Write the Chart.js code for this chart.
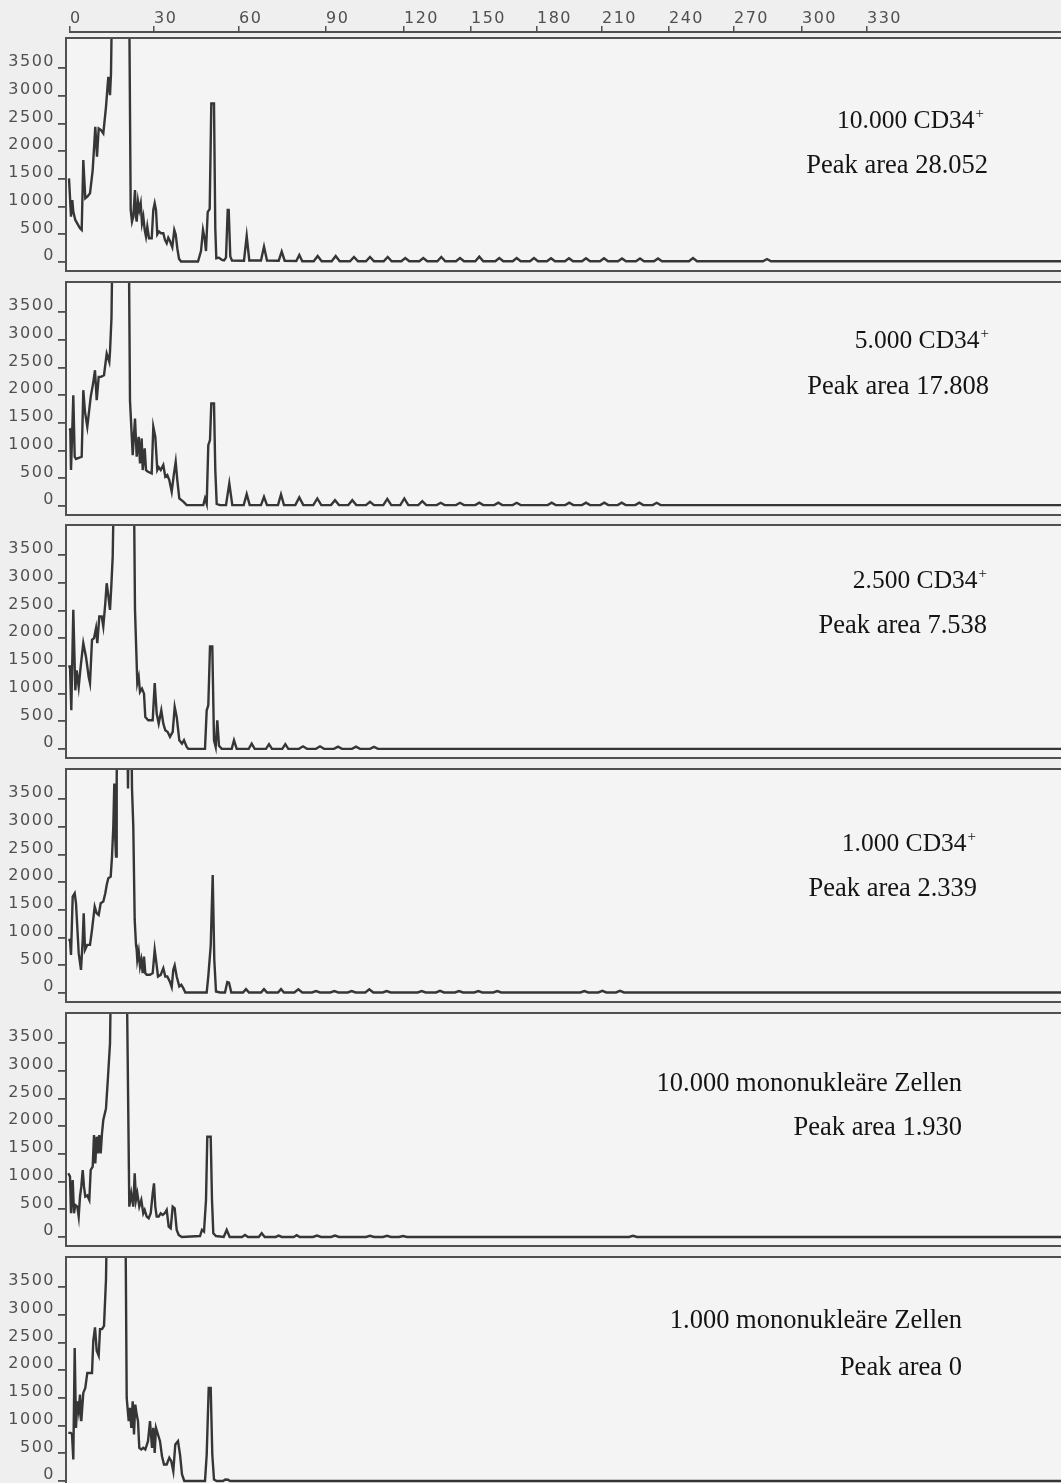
<!DOCTYPE html>
<html>
<head>
<meta charset="utf-8">
<script src="https://cdn.jsdelivr.net/npm/chart.js@4.4.1/dist/chart.umd.min.js"></script>
<style>
  html, body { margin: 0; padding: 0; width: 1061px; height: 1483px; overflow: hidden; background: #efefef; }
  canvas { position: absolute; left: 0; }
</style>
</head>
<body>
<canvas id="topAxis" width="1063" height="40" style="top:0"></canvas>
<canvas id="panel0" width="1063" height="236"></canvas>
<canvas id="panel1" width="1063" height="236"></canvas>
<canvas id="panel2" width="1063" height="236"></canvas>
<canvas id="panel3" width="1063" height="236"></canvas>
<canvas id="panel4" width="1063" height="236"></canvas>
<canvas id="panel5" width="1063" height="236"></canvas>
<script>
// top axis: channel position of each tick and its printed label
const axisTickChannels = [0, 84, 169, 256, 334, 401, 467, 532, 599, 664, 732, 797];
const axisTickLabels = ['0', '30', '60', '90', '120', '150', '180', '210', '240', '270', '300', '330'];
const yTickValues = [0, 500, 1000, 1500, 2000, 2500, 3000, 3500];

const panelTitles = ['10.000 CD34', '5.000 CD34', '2.500 CD34', '1.000 CD34',
  '10.000 mononukleäre Zellen', '1.000 mononukleäre Zellen'];
const titleSuperscripts = ['+', '+', '+', '+', '', ''];
const peakAreas = ['28.052', '17.808', '7.538', '2.339', '1.930', '0'];

// traces: [channel, signal]
const trace_cd34_10000 = [
  [-1,1510],[1,820],[2.3,1120],[3.3,910],[5.3,760],[10,610],[11.7,580],[13.3,1840],[15.3,1150],[17.3,1180],
  [20,1240],[22.7,1660],[25.3,2440],[27,1900],[28.7,2410],[31,2380],[33.3,2320],[36,2800],[38.3,3340],[40,3010],
  [41,3400],[43,6000],[58.7,6000],[60.7,940],[62,730],[63.3,820],[65,1300],[66,820],[66.7,730],[68,1090],
  [69.3,940],[70.7,1060],[72,700],[73.3,820],[74.7,580],[76,460],[77.3,640],[79,430],[81.7,430],[83.3,940],
  [84.7,1060],[86,940],[87.3,500],[89,550],[91,520],[93.3,520],[95,400],[96.7,340],[98.3,440],[100,380],
  [102.3,270],[104.3,580],[105.7,500],[107.3,250],[109,60],[111,10],[128,10],[131,200],[133,580],[134.7,420],
  [136,200],[137.7,900],[139.7,960],[141.3,2860],[144,2860],[145.3,600],[146.3,70],[149,80],[152,40],[154,30],
  [156,80],[157.7,940],[158.7,940],[160.3,100],[162,30],[174,25],[176.7,470],[179.3,30],[191,30],[194,280],
  [197,30],[208.7,25],[211.7,190],[214.7,25],[226.3,20],[229.3,130],[232.3,15],
  [243.7,15],[247.7,110],[251.7,15],[261.7,15],[265.7,110],[269.7,15],[280,15],[284,93],[288,15],
  [296,15],[300,93],[304,15],[313.7,15],[317.7,93],[321.7,15],[331.3,15],[335.3,75],[339.3,15],
  [349.3,15],[353.3,75],[357.3,15],[367.3,15],[371.3,93],[375.3,15],[386,15],[390,75],[394,15],
  [405.3,15],[409.3,99],[413.3,15],[425.3,15],[429.3,75],[433.3,15],[442.7,15],[446.7,75],[450.7,15],
  [460,15],[464,75],[468,15],[477,15],[481,70],[485,15],[495,15],[499,70],[503,15],
  [512,15],[516,70],[520,15],[530,15],[534,70],[538,15],[548,15],[552,65],[556,15],
  [566,15],[570,65],[574,15],[584,15],[588,65],[592,15],[619,15],[623,75],[627,15],
  [693,15],[697,55],[701,15],[993,15]
];

const trace_cd34_5000 = [
  [-0.7,1400],[0.3,1380],[1,650],[2,1200],[3.3,2000],[4.7,890],[6,850],[11.7,890],[13.3,2090],[15,1700],
  [17.3,1430],[20.7,1970],[23,2200],[25,2450],[26.7,1910],[28.7,2330],[31,2330],[34,2360],[36.7,2750],[39.3,2600],
  [40,2780],[41.5,3400],[43.3,6000],[58.3,6000],[60,1900],[62.7,920],[65,1580],[66.7,890],[68.7,1250],[70,770],
  [71.7,1220],[72.7,650],[74.7,1040],[76,650],[78,620],[81.7,590],[83.3,1430],[85.3,1250],[87.3,650],[88.7,700],
  [90.7,650],[93.3,740],[95.3,530],[97.3,560],[99.3,470],[101.7,260],[104,590],[105.7,800],[107.3,470],[109.3,140],
  [113.3,80],[116.7,18],[133.3,18],[135,140],[136.7,40],[138.3,1100],[140,1190],[141.3,1850],[144,1850],[145.3,650],
  [146.7,40],[150,18],[156,18],[159.3,410],[162.3,18],[173.7,18],[176.7,216],[179.7,18],[191,18],[194,168],
  [197,18],[208,18],[211,210],[214,18],
  [225.3,18],[229.3,158],[233.3,18],[243.3,18],[247.3,138],[251.3,18],[261,18],[265,108],[269,18],
  [278.3,18],[282.3,108],[286.3,18],[296,18],[300,78],[304,18],[313.3,18],[317.3,130],[321.3,18],
  [330.3,18],[334.3,138],[338.3,18],[348.3,18],[352.3,90],[356.3,18],[366.7,18],[370.7,60],[374.7,18],
  [386,18],[390,60],[394,18],[405.3,18],[409.3,63],[413.3,18],[424.3,18],[428.3,63],[432.3,18],
  [442.7,18],[446.7,60],[450.7,18],[477.7,18],[481.7,63],[485.7,18],[495.3,18],[499.3,63],[503.3,18],
  [512,18],[516,63],[520,18],[530.3,18],[534.3,63],[538.3,18],[547.7,18],[551.7,63],[555.7,18],
  [565.3,18],[569.3,63],[573.3,18],[582.7,18],[586.7,60],[590.7,18],[993,18]
];

const trace_cd34_2500 = [
  [-1.7,1490],[0,1490],[1.3,700],[3.3,2510],[5.3,1060],[6.7,1420],[8.7,1120],[10.7,1490],[13.3,1910],[16,1660],
  [18.7,1300],[20,1190],[22,1970],[24,2000],[26,2180],[27.3,1910],[29.3,2390],[31.7,2390],[33.3,2210],[35.3,2630],
  [36.7,2990],[38,2810],[40,2510],[41.3,2930],[42.7,3470],[45,6000],[63.3,6000],[65,2510],[67.3,1190],[68.7,1300],
  [70,1030],[72,1090],[74,1000],[75.3,580],[78.3,520],[82.7,520],[84.7,1190],[86.7,640],[88.7,460],[91.3,700],
  [93.3,460],[95.3,340],[97.7,310],[100,220],[102.7,310],[104.7,760],[106.7,580],[109.3,160],[112,100],[114,160],
  [116.7,40],[118.3,5],[135,5],[136.7,700],[138.3,790],[140,1850],[142.3,1850],[144,160],[145.7,40],[147.3,520],
  [149,60],[151.7,5],[161.7,5],[164,160],[166.7,5],[178.7,5],[181.7,100],[184.7,5],[196,5],[199,90],
  [202,5],[212.3,5],[215.3,90],[218.3,5],
  [229,5],[233,50],[237,5],[246,5],[250,50],[254,5],[264,5],[268,45],[272,5],
  [282,5],[286,45],[290,5],[300,5],[304,40],[308,5],[993,5]
];

const trace_cd34_1000 = [
  [-1.7,960],[0,960],[1,690],[2.7,1740],[4.7,1800],[6,1620],[8.7,720],[11,420],[12.7,960],[13.7,1440],
  [15,780],[17.3,870],[20,870],[22,1140],[24.7,1560],[26.7,1440],[28.7,1410],[30.7,1620],[33.3,1650],[35.3,1800],
  [36.7,1950],[38.3,2070],[40.7,2100],[42,2460],[43.3,3000],[44.3,3780],[45.3,2760],[46,2460],[46.7,3780],[47.3,6000],
  [56.7,6000],[58,3690],[59.3,6000],[60.7,6000],[62,3690],[63.3,3000],[64.7,1320],[66,870],[66.7,780],[67.3,600],
  [68.7,750],[70,480],[71.3,600],[72.7,360],[74,660],[75.3,360],[76.7,330],[80,330],[82.7,360],[84.7,780],
  [86,600],[88,300],[90.7,330],[93.3,450],[95.3,300],[97.3,300],[100,200],[101.7,110],[103.3,420],[104.7,500],
  [106.7,300],[109.3,120],[111.3,150],[113.3,90],[115.3,12],[136.7,12],[138.3,300],[140.7,850],[142.7,2130],[144.3,600],
  [146,30],[150,12],[155,12],[157.3,200],[159,190],[161.3,12],[173,12],[176,72],[179,12],[191,12],
  [194,72],[197,12],[208,12],[211,72],[214,12],
  [224.3,12],[228.3,68],[232.3,12],[242,12],[246,38],[250,12],[260.3,12],[264.3,38],[268.3,12],
  [277.7,12],[281.7,38],[285.7,12],[295.3,12],[299.3,68],[303.3,12],[312.7,12],[316.7,38],[320.7,12],
  [347.7,12],[351.7,38],[355.7,12],[366,12],[370,41],[374,12],[385,12],[389,38],[393,12],
  [404.3,12],[408.3,38],[412.3,12],[423.3,12],[427.3,38],[431.3,12],[510.3,12],[514.3,38],[518.3,12],
  [528.3,12],[532.3,41],[536.3,12],[546,12],[550,41],[554,12],[993,12]
];

const trace_mnc_10000 = [
  [-1.7,1150],[0,1090],[1,430],[2.7,1030],[4,430],[5.3,580],[7.3,550],[8.7,370],[10,730],[11.3,910],
  [12.7,1210],[14,910],[15.3,730],[17.3,750],[19.3,670],[20.7,1210],[22.7,1270],[24,1840],[25.3,1330],[26.7,1810],
  [28,1510],[29.3,1840],[30.7,1510],[32,1870],[33.3,2110],[36,2320],[38,2890],[40,3490],[42,6000],[56,6000],
  [59.3,550],[61.3,790],[63.3,550],[64.7,1150],[66,670],[67.3,790],[69.3,550],[71.3,670],[73.3,430],[74.7,490],
  [76.7,370],[78.7,340],[80.7,430],[82.7,790],[84,970],[85.3,550],[86.7,370],[88.7,370],[90.7,430],[92.7,400],
  [94.7,430],[96.7,490],[98.7,190],[100.7,160],[102.7,550],[104.7,520],[106.7,130],[108.7,40],[111.7,3],[130,20],
  [132,130],[134,100],[136,670],[137.3,1810],[140.7,1810],[142,670],[143.3,70],[146,20],[153.7,3],[156.7,130],
  [159.7,3],[172,3],[175,40],[178,3],[188.7,3],[191.7,70],[194.7,3],[205.7,3],[208.7,28],[211.7,3],
  [223.7,3],[226.7,35],[229.7,3],
  [243,3],[247,28],[251,3],[261,3],[265,28],[269,3],[296,3],[300,25],[304,3],
  [313,3],[317,25],[321,3],[329,3],[333,20],[337,3],[559,3],[563,25],[567,3],[993,3]
];

const trace_mnc_1000 = [
  [-1.7,870],[0.7,870],[2,850],[3.3,390],[4.7,2400],[6,960],[7.3,1440],[8.7,1260],[10,1560],[11.3,1080],
  [13.3,1590],[15.3,1680],[17.3,1950],[20,1950],[22,1950],[23.3,2530],[25,2770],[26.7,2350],[28.7,2260],[30,2740],
  [32,2740],[34,2800],[36,3640],[38,6000],[55,6000],[56.7,1500],[58.7,1080],[60,1320],[61.3,960],[62.7,1440],
  [64,840],[65.3,1380],[66.7,1200],[68,1080],[69.3,600],[71.3,570],[73.3,600],[75.3,570],[78,720],[80,1080],
  [82,600],[83.3,960],[84.7,510],[86,960],[88,840],[90,720],[92,450],[94,300],[96.7,300],[99.3,420],
  [101.3,360],[103.3,180],[105.3,660],[108,720],[110,480],[112,120],[114.3,3],[135,3],[136.7,480],[138.7,1680],
  [140.7,1680],[142.3,480],[144,30],[146.7,3],[153,3],[155.3,30],[158,25],[160,3],[993,3]
];

const panelTraces = [trace_cd34_10000, trace_cd34_5000, trace_cd34_2500, trace_cd34_1000, trace_mnc_10000, trace_mnc_1000];

// layout
const panelTops = [38, 282, 525, 769, 1013, 1257];
// [right edge line 1, baseline line 1, right edge line 2, baseline line 2]
const textSpots = [[984, 91, 988, 136], [989, 67, 989, 113], [987, 64, 987, 109],
  [976, 83, 977, 128], [962, 79, 962, 123], [962, 72, 962, 119]];

const inkColor = '#363636';
const axisColor = '#505050';
const axisFont = { family: '"DejaVu Sans", sans-serif', size: 16 };
const serif = '"Liberation Serif", "Times New Roman", serif';

const framePlugin = {
  id: 'frame',
  beforeDraw(chart) {
    const { ctx, chartArea: a } = chart;
    ctx.fillStyle = '#f4f4f4';
    ctx.fillRect(a.left, a.top, a.right - a.left, a.bottom - a.top);
    ctx.letterSpacing = '1.5px';
  },
  afterDraw(chart) {
    const { ctx, chartArea: a } = chart;
    ctx.save();
    ctx.strokeStyle = axisColor;
    ctx.lineWidth = 2;
    ctx.strokeRect(a.left, a.top, a.right - a.left + 2, a.bottom - a.top);
    ctx.restore();
  }
};

const spacedTicks = {
  id: 'spacedTicks',
  beforeDraw(chart) { chart.ctx.letterSpacing = '1.5px'; }
};

const panelText = {
  id: 'panelText',
  afterDraw(chart, args, opts) {
    const i = opts.panel;
    const ctx = chart.ctx;
    const [r1, b1, r2, b2] = textSpots[i];
    const sup = titleSuperscripts[i];
    const size1 = sup ? 25.5 : 26.5;
    ctx.save();
    ctx.letterSpacing = '0px';
    ctx.fillStyle = '#141414';
    ctx.textBaseline = 'alphabetic';
    ctx.textAlign = 'left';
    ctx.font = '15px ' + serif;
    const supW = sup ? ctx.measureText(sup).width + 1 : 0;
    ctx.font = size1 + 'px ' + serif;
    const w1 = ctx.measureText(panelTitles[i]).width;
    const x1 = r1 - supW - w1;
    ctx.fillText(panelTitles[i], x1, b1);
    if (sup) {
      ctx.font = '15px ' + serif;
      ctx.fillText(sup, x1 + w1 + 1, b1 - 10);
    }
    ctx.font = '26.5px ' + serif;
    ctx.textAlign = 'right';
    ctx.fillText('Peak area ' + peakAreas[i], r2, b2);
    ctx.restore();
  }
};

// channel ruler across the top
new Chart(document.getElementById('topAxis'), {
  type: 'line',
  data: { datasets: [{ data: [] }] },
  options: {
    responsive: false,
    animation: false,
    events: [],
    layout: { padding: { left: 70, right: 0, top: 0, bottom: 0 } },
    plugins: { legend: { display: false }, tooltip: { enabled: false } },
    scales: {
      x: {
        type: 'linear',
        position: 'top',
        min: 0,
        max: 993,
        afterBuildTicks: s => { s.ticks = axisTickChannels.map(v => ({ value: v })); },
        afterFit: s => { s.height = 32; s.paddingLeft = 0; s.paddingRight = 0; },
        border: { color: axisColor, width: 2 },
        grid: { drawOnChartArea: false, tickLength: 6, color: axisColor, lineWidth: 1.5 },
        ticks: {
          autoSkip: false,
          maxRotation: 0,
          align: 'start',
          padding: -2,
          color: axisColor,
          font: axisFont,
          callback: v => axisTickLabels[axisTickChannels.indexOf(v)]
        }
      },
      y: { display: false }
    }
  },
  plugins: [spacedTicks]
});

function makePanel(idx) {
  const canvas = document.getElementById('panel' + idx);
  canvas.style.top = (panelTops[idx] - 1) + 'px';
  return new Chart(canvas, {
    type: 'line',
    data: {
      datasets: [{
        data: panelTraces[idx].map(p => ({ x: p[0], y: p[1] })),
        borderColor: inkColor,
        borderWidth: 2.4,
        pointRadius: 0,
        tension: 0,
        fill: false
      }]
    },
    options: {
      responsive: false,
      animation: false,
      events: [],
      layout: { padding: { top: 1, bottom: 2, left: 0, right: 0 } },
      plugins: {
        legend: { display: false },
        tooltip: { enabled: false },
        panelText: { panel: idx }
      },
      scales: {
        x: { type: 'linear', min: -4, max: 993, display: false },
        y: {
          min: -160,
          max: 4040,
          afterBuildTicks: s => { s.ticks = yTickValues.map(v => ({ value: v })); },
          afterFit: s => { s.width = 66; s.paddingTop = 0; s.paddingBottom = 0; },
          border: { display: false },
          grid: { drawOnChartArea: false, tickLength: 8, color: axisColor, lineWidth: 1.8 },
          ticks: {
            padding: 3,
            labelOffset: -6,
            color: axisColor,
            font: axisFont,
            callback: v => String(v)
          }
        }
      }
    },
    plugins: [framePlugin, panelText]
  });
}

for (let i = 0; i < panelTraces.length; i++) {
  makePanel(i);
}
</script>
</body>
</html>
